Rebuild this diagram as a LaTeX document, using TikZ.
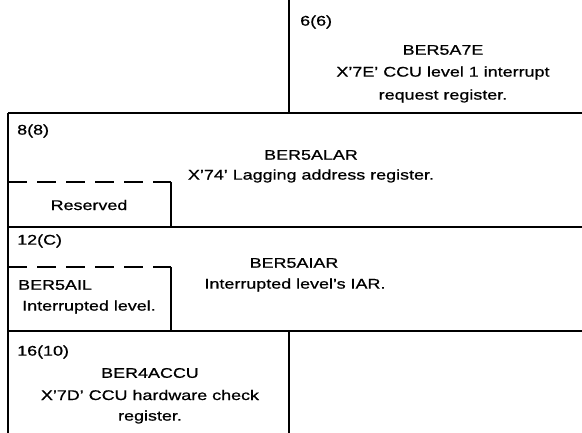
\documentclass[tikz,border=0pt]{standalone}
\usepackage{fontspec}
\setmainfont{Liberation Sans}[FakeStretch=1.28,FakeBold=0.8]
\begin{document}
\begin{tikzpicture}[x=1pt,y=-1pt,
  rule/.style={line width=2.1pt},
  dashrule/.style={line width=2.1pt,dash pattern=on 19pt off 10pt},
  txt/.style={inner sep=0pt,font=\fontsize{14}{22}\selectfont,anchor=center},
  lbl/.style={txt,anchor=west}]
\useasboundingbox (0,0) rectangle (582,433);
% lines
\draw[rule] (289,0) -- (289,113);
\draw[rule] (8,113) -- (582,113);
\draw[rule] (8,113) -- (8,433);
\draw[rule] (8,227) -- (582,227);
\draw[rule] (8,331) -- (582,331);
\draw[rule] (289,331) -- (289,433);
\draw[dashrule] (8,182) -- (171,182);
\draw[rule] (171,182) -- (171,227);
\draw[dashrule] (8,267) -- (171,267);
\draw[rule] (171,267) -- (171,331);
% row 1
\node[lbl] (o6) at (300,22) {6(6)};
\node[txt] (n1a) at (443,50) {BER5A7E};
\node[txt] (n1b) at (443,73) {X'7E' CCU level 1 interrupt};
\node[txt] (n1c) at (443,96) {request register.};
% row 2
\node[lbl] (o8) at (17,131) {8(8)};
\node[txt] (n2a) at (311,155) {BER5ALAR};
\node[txt] (n2b) at (311,176) {X'74' Lagging address register.};
\node[txt] (res) at (89,205) {Reserved};
% row 3
\node[lbl] (o12) at (17,241) {12(C)};
\node[txt] (n3a) at (294,263) {BER5AIAR};
\node[txt] (n3b) at (295,285) {Interrupted level's IAR.};
\node[lbl] (n3c) at (18,285) {BER5AIL};
\node[txt] (n3d) at (89,307) {Interrupted level.};
% row 4
\node[lbl] (o16) at (17,352) {16(10)};
\node[txt] (n4a) at (150,373) {BER4ACCU};
\node[txt] (n4b) at (150,395) {X'7D' CCU hardware check};
\node[txt] (n4c) at (150,417) {register.};
\end{tikzpicture}
\end{document}
